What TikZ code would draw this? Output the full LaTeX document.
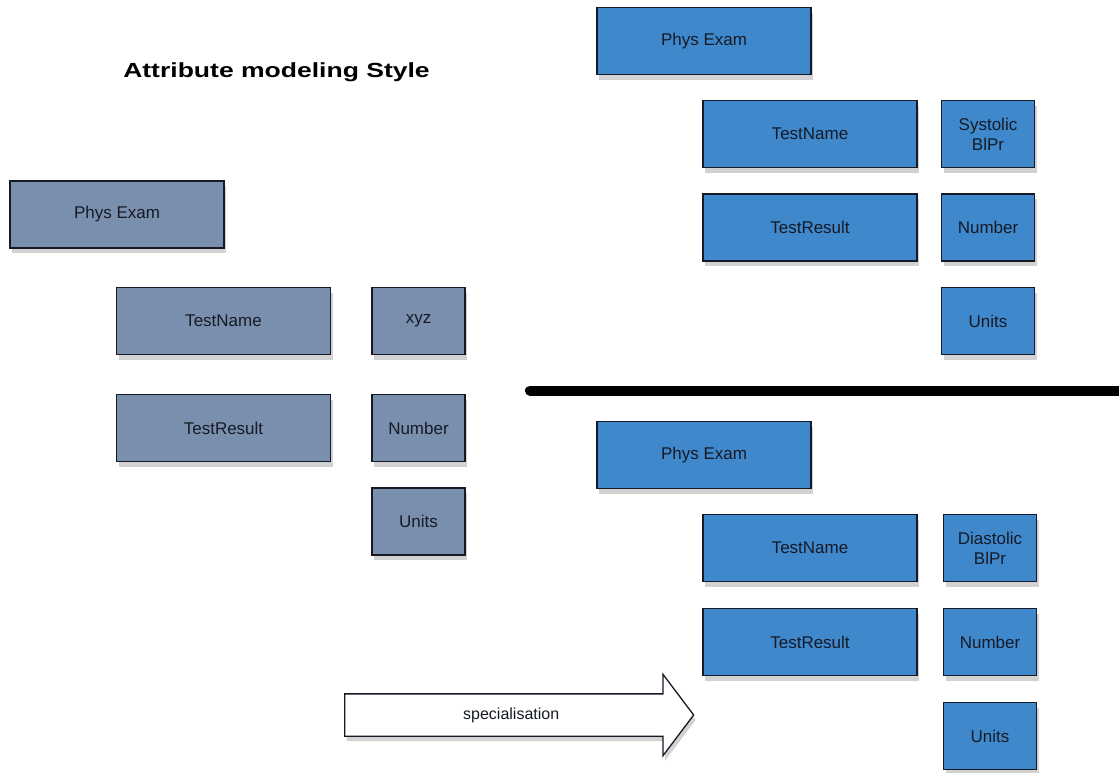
\documentclass[tikz,border=0pt]{standalone}
\usepackage{fontspec}
\setmainfont{Liberation Sans}
\usetikzlibrary{shadows,shapes.arrows}
\definecolor{attrgray}{RGB}{122,143,173}
\definecolor{attrblue}{RGB}{62,136,203}
\definecolor{attrline}{RGB}{22,26,38}
\tikzset{
  attrbox/.style={draw=attrline,line width=1.3pt,rectangle,inner sep=1pt,align=center,
    text=attrline,font=\fontsize{17}{20}\selectfont,
    drop shadow={shadow xshift=2pt,shadow yshift=-5pt,opacity=0.25,fill=black!70}},
  widebox/.style={attrbox,minimum width=214pt,minimum height=67pt},
  smallbox/.style={attrbox,minimum width=93pt,minimum height=67pt},
  grayfill/.style={fill=attrgray},
  bluefill/.style={fill=attrblue}
}
\begin{document}
\begin{tikzpicture}[x=1pt,y=-1pt]
\useasboundingbox (0,0) rectangle (1119,772);
\node[anchor=base,font=\fontsize{20.4}{22}\selectfont\bfseries] (title) at (276.5,77.5) {\scalebox{1.3}[1]{Attribute modeling Style}};
\node[widebox,grayfill] (physL) at (117,214.5) {Phys Exam};
\node[widebox,grayfill] (nameL) at (223.5,321) {TestName};
\node[smallbox,grayfill] (xyzL) at (418.5,321) {xyz};
\node[widebox,grayfill] (resL) at (223.5,428) {TestResult};
\node[smallbox,grayfill] (numL) at (418.5,428) {Number};
\node[smallbox,grayfill] (unitsL) at (418.5,521.5) {Units};
\node[widebox,bluefill] (physT) at (704,41) {Phys Exam};
\node[widebox,bluefill] (nameT) at (810,134) {TestName};
\node[smallbox,bluefill] (sysT) at (988,134) {Systolic\\BlPr};
\node[widebox,bluefill] (resT) at (810,227.5) {TestResult};
\node[smallbox,bluefill] (numT) at (988,227.5) {Number};
\node[smallbox,bluefill] (unitsT) at (988,321) {Units};
\coordinate (sepL) at (530,390.5);
\coordinate (sepR) at (1119,390.5);
\draw[line width=10pt,line cap=round] (sepL) -- (sepR);
\node[widebox,bluefill] (physB) at (704,455) {Phys Exam};
\node[widebox,bluefill] (nameB) at (810,548) {TestName};
\node[smallbox,bluefill] (diaB) at (990,548) {Diastolic\\BlPr};
\node[widebox,bluefill] (resB) at (810,642) {TestResult};
\node[smallbox,bluefill] (numB) at (990,642) {Number};
\node[smallbox,bluefill] (unitsB) at (990,736) {Units};
\node[single arrow,draw=attrline,fill=white,line width=1.3pt,minimum height=349pt,minimum width=80pt,
  single arrow head extend=19.5pt,single arrow tip angle=106,inner xsep=0pt,inner ysep=12.5pt,
  text height=12pt,text depth=4pt,font=\fontsize{16}{18}\selectfont,text=attrline,anchor=tail,
  drop shadow={shadow xshift=2pt,shadow yshift=-5pt,opacity=0.25,fill=black!70}] (spec) at (344,715) {specialisation};
\end{tikzpicture}
\end{document}
